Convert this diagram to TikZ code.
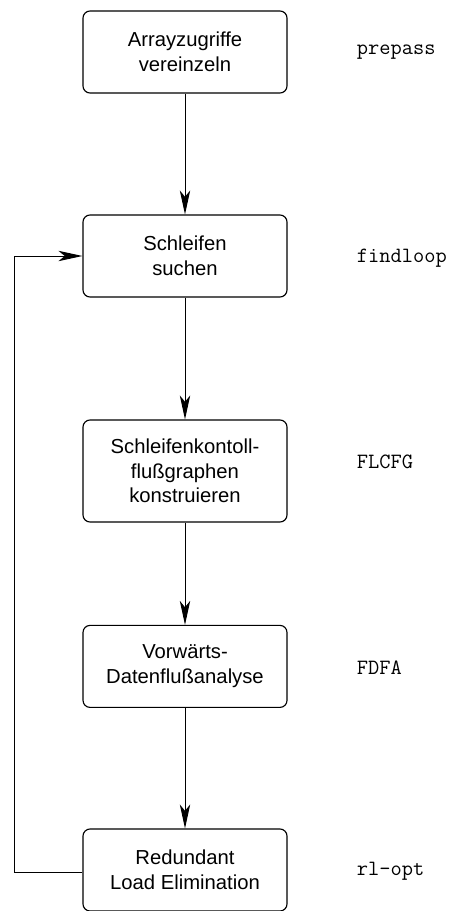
\documentclass[tikz,border=0pt]{standalone}
\usepackage{fontspec}
\setmainfont{Liberation Sans}
\usetikzlibrary{arrows.meta, positioning}

\begin{document}
\begin{tikzpicture}[>={Stealth[length=6mm, width=2.6mm, inset=1.6mm]}]
    \tikzset{
      pass/.style={draw, line width=0.8pt, rounded corners=5pt, align=center,
        minimum width=5.1cm, minimum height=2.05cm,
        font=\fontsize{14.4}{17.5}\selectfont},
      tool/.style={anchor=west, font=\ttfamily\fontsize{15.5}{17}\selectfont},
      flow/.style={->, line width=0.7pt}
    }
    \useasboundingbox (0,0) rectangle (11.4,-22.775);

    % Passes
    \node[pass] (arr) at (4.625,-1.3) {Arrayzugriffe\\vereinzeln};
    \node[pass] (loop) at (4.625,-6.4) {Schleifen\\suchen};
    \node[pass, minimum height=2.55cm] (cfg) at (4.625,-11.775) {Schleifenkontoll-\\flußgraphen\\konstruieren};
    \node[pass] (dfa) at (4.625,-16.66) {Vorwärts-\\Datenflußanalyse};
    \node[pass] (rle) at (4.625,-21.75) {Redundant\\Load Elimination};

    % Program names
    \node[tool] (n1) at (8.8,-1.3) {prepass};
    \node[tool] (n2) at (8.8,-6.45) {findloop};
    \node[tool] (n3) at (8.8,-11.55) {FLCFG};
    \node[tool] (n4) at (8.8,-16.68) {FDFA};
    \node[tool] (n5) at (8.8,-21.78) {rl-opt};

    % Order of the passes
    \draw[flow] (arr) -- (loop);
    \draw[flow] (loop) -- (cfg);
    \draw[flow] (cfg) -- (dfa);
    \draw[flow] (dfa) -- (rle);

    % Back to the loop search
    \coordinate (back) at (0.35,-21.82);
    \draw[flow] (rle.west |- back) -- (back) |- (loop.west);
\end{tikzpicture}
\end{document}
